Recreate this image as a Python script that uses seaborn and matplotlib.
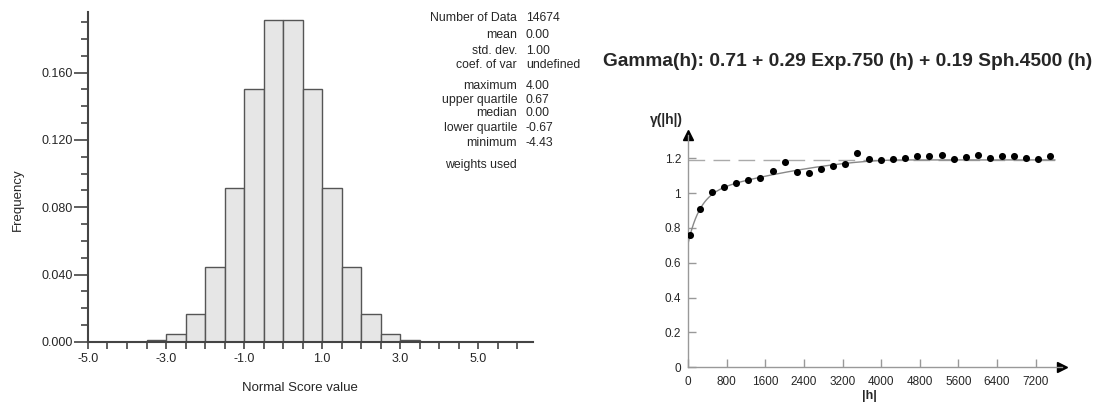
import numpy as np
import pandas as pd
import matplotlib
matplotlib.use("Agg")
import matplotlib.pyplot as plt
import seaborn as sns

sns.set_theme(style="white")
plt.rcParams["font.family"] = ["Liberation Sans", "DejaVu Sans"]

# ---- histogram of normal scores ----
bin_edges = [-4.5, -4.0, -3.5, -3.0, -2.5, -2.0, -1.5, -1.0, -0.5, 0.0,
             0.5, 1.0, 1.5, 2.0, 2.5, 3.0, 3.5, 4.0]
bin_freq = [0.00005, 0.0002, 0.0011, 0.0048, 0.0167, 0.0444, 0.0914, 0.150,
            0.191, 0.191, 0.150, 0.0914, 0.0444, 0.0167, 0.0048, 0.0011, 0.0002]

stat_names = ["Number of Data", "mean", "std. dev.", "coef. of var",
              "maximum", "upper quartile", "median", "lower quartile", "minimum",
              "weights used"]
stat_values = ["14674", "0.00", "1.00", "undefined",
               "4.00", "0.67", "0.00", "-0.67", "-4.43", ""]

# ---- experimental variogram ----
lag_h = [50, 250, 500, 750, 1000, 1250, 1500, 1750, 2000, 2250, 2500, 2750,
         3000, 3250, 3500, 3750, 4000, 4250, 4500, 4750, 5000, 5250, 5500,
         5750, 6000, 6250, 6500, 6750, 7000, 7250, 7500]
gamma_vals = [0.758, 0.910, 1.005, 1.033, 1.060, 1.075, 1.089, 1.125, 1.177,
              1.121, 1.115, 1.137, 1.157, 1.168, 1.228, 1.198, 1.188, 1.196,
              1.200, 1.213, 1.215, 1.221, 1.196, 1.209, 1.221, 1.200, 1.211,
              1.213, 1.200, 1.198, 1.213]

# nested model: nugget + exponential + spherical
nugget = 0.71
exp_sill, exp_range = 0.29, 750
sph_sill, sph_range = 0.19, 4500
model_title = "Gamma(h): 0.71 + 0.29 Exp.750 (h) + 0.19 Sph.4500 (h)"

x_ticks_var = [0, 800, 1600, 2400, 3200, 4000, 4800, 5600, 6400, 7200]
y_ticks_var = [0, 0.2, 0.4, 0.6, 0.8, 1.0, 1.2]
y_tick_labels_var = ["0", "0.2", "0.4", "0.6", "0.8", "1", "1.2"]


def variogram_model(h):
    h = np.asarray(h, dtype=float)
    g_exp = exp_sill * (1.0 - np.exp(-3.0 * h / exp_range))
    r = np.clip(h / sph_range, 0, 1)
    g_sph = sph_sill * (1.5 * r - 0.5 * r ** 3)
    return nugget + g_exp + g_sph


W, H = 1097, 403
fig = plt.figure(figsize=(W / 100, H / 100), dpi=100)
fig.patch.set_facecolor("white")

# ================= histogram =================
axh = fig.add_axes([0.0802, 0.1514, 0.4057, 0.819])
centers = [(a + b) / 2 for a, b in zip(bin_edges[:-1], bin_edges[1:])]
hist_df = pd.DataFrame({"score": centers, "freq": bin_freq})
sns.histplot(data=hist_df, x="score", weights="freq", bins=bin_edges,
             stat="count", color="#e6e6e6", edgecolor="#555555",
             linewidth=1.0, alpha=1.0, ax=axh)
axh.set_xlim(-5.0, 6.4)
axh.set_ylim(0, 0.196)
axh.set_facecolor("white")
for side in ["top", "right"]:
    axh.spines[side].set_visible(False)
for side in ["left", "bottom"]:
    axh.spines[side].set_color("#444444")
    axh.spines[side].set_linewidth(1.5)

major_y = np.arange(0, 0.161, 0.04)
axh.set_yticks(major_y)
axh.set_yticklabels([f"{v:.3f}" for v in major_y])
axh.set_yticks(np.arange(0, 0.1951, 0.01), minor=True)
axh.set_xticks([-5.0, -3.0, -1.0, 1.0, 3.0, 5.0])
axh.set_xticklabels(["-5.0", "-3.0", "-1.0", "1.0", "3.0", "5.0"])
axh.set_xticks(np.arange(-5.0, 6.41, 0.5), minor=True)
axh.tick_params(axis="y", which="major", direction="out", length=10,
                width=1.2, color="#444444", labelsize=9, pad=1,
                left=True)
axh.tick_params(axis="y", which="minor", direction="out", length=5,
                width=1.2, color="#444444", left=True)
axh.tick_params(axis="x", which="both", direction="out", length=5,
                width=1.2, color="#444444", labelsize=9, pad=3, bottom=True)
axh.set_xlabel("")
axh.set_ylabel("")
fig.text(300 / W, 1 - 388 / H, "Normal Score value", ha="center",
         va="center", fontsize=9.5)
fig.text(18 / W, 1 - 200 / H, "Frequency", ha="center", va="center",
         rotation=90, fontsize=9.5)

# summary statistics block
y_rows = [18, 35, 51, 64.5, 86, 100, 113, 128, 143, 165]
for name, val, yp in zip(stat_names, stat_values, y_rows):
    fig.text(517 / W, 1 - yp / H, name, ha="right", va="center",
             fontsize=8.8)
    fig.text(526 / W, 1 - yp / H, val, ha="left", va="center",
             fontsize=8.8)

# ================= variogram =================
axv = fig.add_axes([0.6272, 0.0886, 0.3407, 0.5764])
axv.set_facecolor("white")
h_line = np.linspace(0, 7600, 600)
model_df = pd.DataFrame({"h": h_line, "g": variogram_model(h_line)})
sill = nugget + exp_sill + sph_sill
axv.axhline(sill, xmin=0, xmax=7600 / 7740, color="#aaaaaa", lw=1.0,
            dashes=(12, 6), zorder=1)
sns.lineplot(data=model_df, x="h", y="g", color="#888888", lw=1.0,
             ax=axv, zorder=2)
var_df = pd.DataFrame({"h": lag_h, "gamma": gamma_vals})
sns.scatterplot(data=var_df, x="h", y="gamma", color="black", s=26,
                edgecolor="black", linewidth=0, ax=axv, zorder=3)
axv.set_xlim(0, 7740)
axv.set_ylim(0, 1.333)
for side in ["top", "right"]:
    axv.spines[side].set_visible(False)
for side in ["left", "bottom"]:
    axv.spines[side].set_color("#999999")
    axv.spines[side].set_linewidth(1.0)
axv.set_xticks(x_ticks_var)
axv.set_xticklabels([str(v) for v in x_ticks_var])
axv.set_yticks(y_ticks_var)
axv.set_yticklabels(y_tick_labels_var)
axv.tick_params(axis="both", direction="in", length=6, width=1.0,
                color="#999999", labelsize=8.5, left=True, bottom=True)
axv.tick_params(axis="x", pad=6)
axv.tick_params(axis="y", pad=5)
axv.set_xlabel("")
axv.set_ylabel("")
# axis arrowheads
axv.plot(1, 0, marker=">", color="black", markersize=7,
         transform=axv.transAxes, clip_on=False)
axv.plot(0, 1, marker="^", color="black", markersize=7,
         transform=axv.transAxes, clip_on=False)
fig.text(869 / W, 1 - 396 / H, "|h|", ha="center", va="center",
         fontsize=9, fontweight="bold")
fig.text(666 / W, 1 - 120 / H, "γ(|h|)", ha="center", va="center",
         fontsize=10, fontweight="bold")
fig.text(603 / W, 1 - 62 / H, model_title, ha="left", va="center",
         fontsize=13.8, fontweight="bold")

fig.savefig("out.png", dpi=100, facecolor="white")
